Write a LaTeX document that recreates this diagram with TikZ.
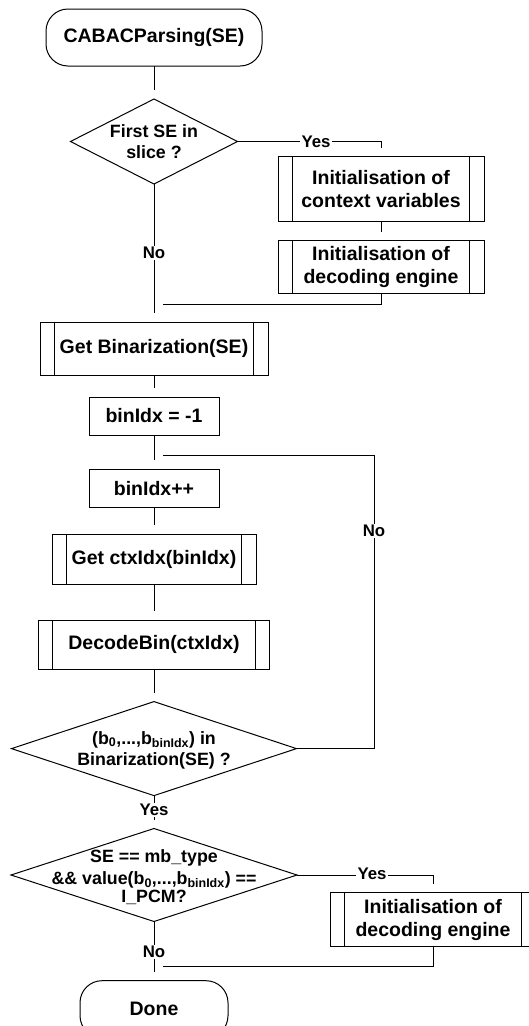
\documentclass[tikz,border=0pt]{standalone}
\usepackage{fontspec}
\setmainfont{Liberation Sans}
\usetikzlibrary{shapes.geometric}
\begin{document}
\begin{tikzpicture}[x=1pt,y=-1pt,line width=1pt,
  boxfont/.style={font=\fontsize{19.5}{23.3}\selectfont\bfseries},
  box/.style={draw,rectangle,inner sep=0pt,outer sep=0pt,align=center,boxfont},
  subproc/.style={box,path picture={
     \draw ([xshift=14.7pt]path picture bounding box.north west) -- ([xshift=14.7pt]path picture bounding box.south west)
           ([xshift=-14.7pt]path picture bounding box.north east) -- ([xshift=-14.7pt]path picture bounding box.south east);}},
  term/.style={box,rounded corners=22pt},
  dia/.style={draw,diamond,inner sep=0pt,outer sep=0pt},
  dtxt/.style={align=center,inner sep=0pt,font=\fontsize{17.8}{21}\selectfont\bfseries},
  lab/.style={fill=white,inner sep=1.5pt,font=\fontsize{16.8}{18}\selectfont\bfseries},
  con/.style={shorten >=9pt}
]
\useasboundingbox (0,0) rectangle (528,1026);

% nodes
\node[term,minimum width=216pt,minimum height=57pt] (start) at (154,37.5) {CABACParsing(SE)};
\node[dia,minimum width=167pt,minimum height=85pt] (d1) at (154,141.5) {};
\node[dtxt] (d1t) at (d1.center) {First SE in\\slice ?};
\node[subproc,minimum width=206pt,minimum height=65pt] (i1) at (381,189.2) {Initialisation of\\context variables};
\node[subproc,minimum width=206pt,minimum height=53.3pt] (i2) at (381,267.3) {Initialisation of\\decoding engine};
\node[subproc,minimum width=228pt,minimum height=53pt] (gb) at (154,348.7) {Get Binarization(SE)};
\node[box,minimum width=130pt,minimum height=38pt] (b1) at (154,416) {binIdx = -1};
\node[box,minimum width=130pt,minimum height=38.5pt] (b2) at (154,488.7) {binIdx++};
\node[subproc,minimum width=204pt,minimum height=50pt] (ctx) at (154,559.4) {Get ctxIdx(binIdx)};
\node[subproc,minimum width=231.5pt,minimum height=49pt] (dec) at (154,644.7) {DecodeBin(ctxIdx)};
\node[dia,minimum width=285pt,minimum height=94pt] (d3) at (154,748.6) {};
\node[dtxt] (d3t) at (154,750) {(b\textsubscript{0},...,b\textsubscript{binIdx}) in\\Binarization(SE) ?};
\node[dia,minimum width=286pt,minimum height=93pt] (d4) at (154,875) {};
\node[dtxt] (d4t) at (154,877) {SE == mb\_type\\[1pt]\&\& value(b\textsubscript{0},...,b\textsubscript{binIdx}) ==\\[-3pt]I\_PCM?};
\node[subproc,minimum width=206pt,minimum height=54pt] (i3) at (433,919.7) {Initialisation of\\decoding engine};
\node[term,minimum width=148pt,minimum height=57pt] (done) at (154,1009.2) {Done};

% junction points
\coordinate (m1) at (154,304.3);
\coordinate (fbc) at (374,455.3);
\coordinate (fbe) at (154,455.3);
\coordinate (m3) at (154,966.7);

% connectors
\draw[con] (start.south) -- (d1.north);
\draw[con] (d1.south) -- (gb.north);
\draw[con] (d1.east) -| (i1.north);
\draw[con] (i1.south) -- (i2.north);
\draw[con] (i2.south) |- (m1);
\draw[con] (gb.south) -- (b1.north);
\draw[con] (b1.south) -- (b2.north);
\draw[con] (b2.south) -- (ctx.north);
\draw[con] (ctx.south) -- (dec.north);
\draw[con] (dec.south) -- (d3.north);
\draw[con] (d3.east) -| (fbc) -- (fbe);
\draw[con] (d3.south) -- (d4.north);
\draw[con] (d4.east) -| (i3.north);
\draw[con] (i3.south) |- (m3);
\draw[con] (d4.south) -- (done.north);

% labels
\node[lab] (l1) at (316,141.5) {Yes};
\node[lab] (l2) at (154,253) {No};
\node[lab] (l3) at (374,531) {No};
\node[lab] (l4) at (154,810) {Yes};
\node[lab] (l5) at (372,874) {Yes};
\node[lab] (l6) at (154,952) {No};
\end{tikzpicture}
\end{document}
